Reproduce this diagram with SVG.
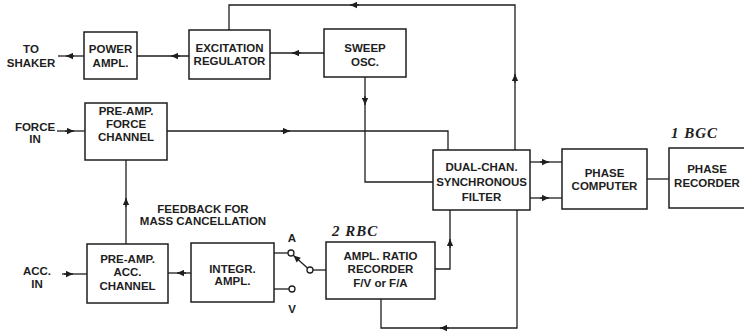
<svg xmlns="http://www.w3.org/2000/svg" width="744" height="332" viewBox="0 0 744 332">
<defs>
<marker id="ah" viewBox="0 0 10 10" refX="10" refY="5" markerWidth="9" markerHeight="7" markerUnits="userSpaceOnUse" orient="auto">
<path d="M0,0.5 L10,5 L0,9.5 z" fill="#1e1e1e"/>
</marker>
</defs>
<style>
.box{fill:#fff;stroke:#1e1e1e;stroke-width:1.5}
.ln{fill:none;stroke:#1e1e1e;stroke-width:1.3}
.ar{fill:none;stroke:#1e1e1e;stroke-width:1.3;marker-end:url(#ah)}
.t{font-family:"Liberation Sans",Arial,sans-serif;font-weight:bold;font-size:11.5px;fill:#1e1e1e;text-anchor:middle}
.h{font-family:"Liberation Serif",serif;font-weight:bold;font-style:italic;font-size:15px;fill:#1e1e1e;letter-spacing:1px}
.sw{fill:#fff;stroke:#1e1e1e;stroke-width:1.3}
</style>
<rect width="744" height="332" fill="#fff"/>
<g id="connectors">
<path class="ln" d="M84,56 H58"/><line class="ar" x1="74" y1="56" x2="66" y2="56"/>
<path class="ln" d="M189,56 H137"/><line class="ar" x1="180" y1="56" x2="171" y2="56"/>
<path class="ln" d="M324,53 H270"/><line class="ar" x1="301" y1="53" x2="292" y2="53"/>
<path class="ln" d="M515,150 V5 H229 V30"/><line class="ar" x1="515" y1="83" x2="515" y2="74"/><line class="ar" x1="359" y1="5" x2="350" y2="5"/>
<path class="ln" d="M167,131 H448 V150"/><line class="ar" x1="281" y1="131" x2="290" y2="131"/>
<path class="ln" d="M57,131 H85"/><line class="ar" x1="65" y1="131" x2="74" y2="131"/>
<path class="ln" d="M365,77 V182 H433"/><line class="ar" x1="365" y1="96" x2="365" y2="105"/>
<path class="ln" d="M530,162 H562"/><line class="ar" x1="540" y1="162" x2="549" y2="162"/>
<path class="ln" d="M530,198 H562"/><line class="ar" x1="540" y1="198" x2="549" y2="198"/>
<path class="ln" d="M647,179 H669"/>
<path class="ln" d="M126,244 V160"/><line class="ar" x1="126" y1="207" x2="126" y2="198"/>
<path class="ln" d="M62,274 H87"/><line class="ar" x1="64" y1="274" x2="73" y2="274"/>
<path class="ln" d="M191,273 H168"/><line class="ar" x1="186" y1="273" x2="177" y2="273"/>
<path class="ln" d="M274,253 H288"/>
<path class="ln" d="M274,289 H289"/>
<line class="ar" x1="307.5" y1="268" x2="293.5" y2="255.5"/>
<path class="ln" d="M313,270 H326"/>
<circle class="sw" cx="291" cy="253" r="3"/>
<circle class="sw" cx="292" cy="289" r="3"/>
<circle class="sw" cx="310" cy="270" r="3"/>
<path class="ln" d="M435,269 H450 V210"/><line class="ar" x1="450" y1="248" x2="450" y2="239"/>
<path class="ln" d="M517,210 V328 H381 V299"/><line class="ar" x1="449" y1="328" x2="440" y2="328"/>
</g>
<g id="to-shaker"><text class="t" x="31" y="53">TO</text><text class="t" x="31" y="67">SHAKER</text></g>
<g id="power-ampl"><rect class="box" x="84" y="32" width="53" height="47"/><text class="t" x="110.5" y="53">POWER</text><text class="t" x="110.5" y="67">AMPL.</text></g>
<g id="excitation-regulator"><rect class="box" x="189" y="30" width="81" height="49"/><text class="t" x="229.5" y="52">EXCITATION</text><text class="t" x="229.5" y="65">REGULATOR</text></g>
<g id="sweep-osc"><rect class="box" x="324" y="29" width="82" height="48"/><text class="t" x="365" y="52">SWEEP</text><text class="t" x="365" y="66">OSC.</text></g>
<g id="force-in"><text class="t" x="35" y="131">FORCE</text><text class="t" x="35" y="143">IN</text></g>
<g id="preamp-force"><rect class="box" x="85" y="103" width="82" height="57"/><text class="t" x="126" y="115">PRE-AMP.</text><text class="t" x="126" y="128">FORCE</text><text class="t" x="126" y="141">CHANNEL</text></g>
<g id="dual-chan-filter"><rect class="box" x="433" y="150" width="97" height="60"/><text class="t" x="481.5" y="171">DUAL-CHAN.</text><text class="t" x="481.5" y="186">SYNCHRONOUS</text><text class="t" x="481.5" y="201">FILTER</text></g>
<g id="phase-computer"><rect class="box" x="562" y="149" width="85" height="60"/><text class="t" x="604.5" y="177">PHASE</text><text class="t" x="604.5" y="190">COMPUTER</text></g>
<g id="phase-recorder"><rect class="box" x="669" y="148" width="80" height="60"/><text class="t" x="707" y="173">PHASE</text><text class="t" x="707" y="187">RECORDER</text></g>
<g id="note-1"><text class="h" x="671" y="138">1  BGC</text></g>
<g id="feedback-label"><text class="t" x="203" y="213">FEEDBACK FOR</text><text class="t" x="203" y="225">MASS CANCELLATION</text></g>
<g id="acc-in"><text class="t" x="37" y="275">ACC.</text><text class="t" x="37" y="288">IN</text></g>
<g id="preamp-acc"><rect class="box" x="87" y="244" width="81" height="59"/><text class="t" x="127.5" y="263">PRE-AMP.</text><text class="t" x="127.5" y="276">ACC.</text><text class="t" x="127.5" y="290">CHANNEL</text></g>
<g id="integr-ampl"><rect class="box" x="191" y="243" width="83" height="59"/><text class="t" x="232.5" y="273">INTEGR.</text><text class="t" x="232.5" y="285">AMPL.</text></g>
<g id="switch-labels"><text class="t" x="292" y="242">A</text><text class="t" x="292" y="313">V</text></g>
<g id="note-2"><text class="h" x="332" y="236">2  RBC</text></g>
<g id="ampl-ratio-recorder"><rect class="box" x="326" y="242" width="109" height="57"/><text class="t" x="380.5" y="260">AMPL. RATIO</text><text class="t" x="380.5" y="273">RECORDER</text><text class="t" x="380.5" y="287">F/V or F/A</text></g>
</svg>
